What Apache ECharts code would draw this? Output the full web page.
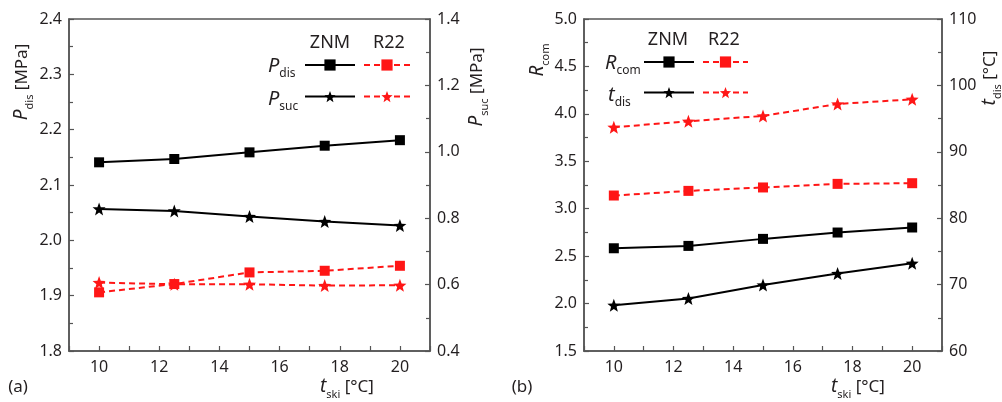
<!DOCTYPE html>
<html>
<head>
<meta charset="utf-8">
<script src="https://cdn.jsdelivr.net/npm/echarts@6/dist/echarts.min.js"></script>
<style>
html,body{margin:0;padding:0;background:#fff;}
#chart{width:1002px;height:402px;}
</style>
</head>
<body>
<div id="chart"></div>
<script>
// ---- data ----
var tski = [10, 12.5, 15, 17.5, 20];
// panel (a)
var pdisZNM = [2.141, 2.147, 2.159, 2.171, 2.181];
var pdisR22 = [1.906, 1.921, 1.942, 1.945, 1.954];
var psucZNM = [0.828, 0.822, 0.805, 0.790, 0.778];
var psucR22 = [0.606, 0.601, 0.601, 0.597, 0.598];
// panel (b)
var rcomZNM = [2.583, 2.608, 2.682, 2.749, 2.802];
var rcomR22 = [3.139, 3.188, 3.224, 3.262, 3.269];
var tdisZNM = [66.9, 67.9, 69.95, 71.66, 73.2];
var tdisR22 = [93.7, 94.6, 95.4, 97.2, 97.9];
var legendCols = ['ZNM', 'R22'];

function pairs(ys){ return tski.map(function(x,i){ return [x, ys[i]]; }); }

// star symbol path
var starPath = (function(){
  var s = 'path://';
  for (var i=0;i<10;i++){
    var r = (i%2===0) ? 50 : 21;
    var a = -Math.PI/2 + i*Math.PI/5;
    var x = (50 + r*Math.cos(a)).toFixed(2), y = (52 + r*Math.sin(a)).toFixed(2);
    s += (i===0?'M':'L') + x + ' ' + y + ' ';
  }
  return s + 'Z';
})();

var FONT = 'Noto Sans';
var TXT = '#231f20';
var AX = '#555';
var RED = '#ff1616';

function xAxisDef(gi){
  return {
    type:'value', gridIndex:gi, min:9, max:21, interval:1,
    axisLine:{show:true, lineStyle:{color:AX, width:1.5}},
    axisTick:{show:true, inside:true, length:5, lineStyle:{color:AX, width:1.2}},
    axisLabel:{color:TXT, fontSize:16, fontFamily:FONT, margin:8,
      formatter:function(v){ return (v%2===0 && v>=10 && v<=20) ? String(v) : ''; }},
    splitLine:{show:false}
  };
}
function yAxisDef(gi, pos, min, max, interval, dec){
  return {
    type:'value', gridIndex:gi, position:pos, min:min, max:max, interval:interval,
    axisLine:{show:true, lineStyle:{color:AX, width:1.5}},
    axisTick:{show:true, inside:true, length:5, lineStyle:{color:AX, width:1.2}},
    minorTick:{show:true, splitNumber:2, length:4, lineStyle:{color:AX, width:1.2}},
    axisLabel:{color:TXT, fontSize:16, fontFamily:FONT, margin:7,
      formatter:function(v){ return v.toFixed(dec); }},
    splitLine:{show:false}, minorSplitLine:{show:false}
  };
}
function ser(name, xi, yi, ys, sym, red){
  return {
    name:name, type:'line', xAxisIndex:xi, yAxisIndex:yi, data:pairs(ys),
    symbol: sym==='star' ? starPath : 'rect',
    symbolSize: sym==='star' ? 13 : 10,
    color: red ? RED : '#000',
    itemStyle:{color: red ? RED : '#000'},
    lineStyle:{color: red ? RED : '#000', width:2, type: red ? [6,4] : 'solid'},
    animation:false, z: red ? 3 : 4
  };
}

var rich = {
  i:{fontStyle:'italic', fontSize:19, fontFamily:FONT, color:TXT, lineHeight:26, verticalAlign:'middle'},
  s:{fontSize:11, fontFamily:FONT, color:TXT, lineHeight:12, verticalAlign:'bottom'},
  n:{fontSize:17, fontFamily:FONT, color:TXT, lineHeight:26, verticalAlign:'middle'},
  li:{fontStyle:'italic', fontSize:20, fontFamily:FONT, color:TXT, lineHeight:28, verticalAlign:'middle'},
  ls:{fontSize:12, fontFamily:FONT, color:TXT, lineHeight:12, verticalAlign:'bottom'}
};
function label(x, y, text, rot, align){
  return {type:'text', x:x, y:y, rotation: rot ? Math.PI/2 : 0, silent:true,
    style:{text:text, rich:rich, align:align||'center', verticalAlign:'middle', fontFamily:FONT, fontSize:17, fill:TXT}};
}
function plain(x, y, text, fs){
  return {type:'text', x:x, y:y, silent:true,
    style:{text:text, align:'center', verticalAlign:'middle', fontFamily:FONT, fontSize:fs||17, fill:TXT}};
}
function legendDef(names, left, top, w, gap){
  return {show:true, orient:'vertical', left:left, top:top, itemWidth:w, itemHeight:14, itemGap:gap,
    selectedMode:false, data:names, formatter:function(){ return ''; }, padding:0,
    textStyle:{fontSize:1}};
}

var option = {
  backgroundColor:'#fff',
  animation:false,
  grid:[
    {left:69, right:572, top:19, bottom:51, show:true, borderColor:AX, borderWidth:1.5, backgroundColor:'transparent'},
    {left:584, right:60, top:19, bottom:51, show:true, borderColor:AX, borderWidth:1.5, backgroundColor:'transparent'}
  ],
  xAxis:[xAxisDef(0), xAxisDef(1)],
  yAxis:[
    yAxisDef(0,'left',1.8,2.4,0.1,1),
    yAxisDef(0,'right',0.4,1.4,0.2,1),
    yAxisDef(1,'left',1.5,5.0,0.5,1),
    yAxisDef(1,'right',60,110,10,0)
  ],
  legend:[
    legendDef(['Pdis ZNM','Psuc ZNM'], 304, 58, 50, 19),
    legendDef(['Pdis R22','Psuc R22'], 363, 58, 46, 19),
    legendDef(['Rcom ZNM','tdis ZNM'], 643, 55, 50, 18),
    legendDef(['Rcom R22','tdis R22'], 702, 55, 45, 18)
  ],
  series:[
    ser('Pdis ZNM',0,0,pdisZNM,'rect',false),
    ser('Pdis R22',0,0,pdisR22,'rect',true),
    ser('Psuc ZNM',0,1,psucZNM,'star',false),
    ser('Psuc R22',0,1,psucR22,'star',true),
    ser('Rcom ZNM',1,2,rcomZNM,'rect',false),
    ser('Rcom R22',1,2,rcomR22,'rect',true),
    ser('tdis ZNM',1,3,tdisZNM,'star',false),
    ser('tdis R22',1,3,tdisR22,'star',true)
  ],
  graphic:[
    label(22, 82, '{i|P}{s|dis} {n|[MPa]}', true),
    label(477, 87, '{i|P}{s|suc} {n|[MPa]}', true),
    label(347, 387, '{i|t}{s|ski} {n|[°C]}', false),
    plain(18, 387, '(a)'),
    label(538, 60, '{i|R}{s|com}', true),
    label(990, 78, '{i|t}{s|dis} {n|[°C]}', true),
    label(858, 387, '{i|t}{s|ski} {n|[°C]}', false),
    plain(522, 387, '(b)'),
    plain(330, 43, legendCols[0], 18),
    plain(389, 43, legendCols[1], 18),
    plain(668, 40, legendCols[0], 18),
    plain(724, 40, legendCols[1], 18),
    label(268, 66, '{li|P}{ls|dis}', false, 'left'),
    label(268, 99, '{li|P}{ls|suc}', false, 'left'),
    label(605, 63, '{li|R}{ls|com}', false, 'left'),
    label(608, 95, '{li|t}{ls|dis}', false, 'left')
  ]
};

var chart = echarts.init(document.getElementById('chart'), null, {renderer:'canvas'});
chart.setOption(option);
</script>
</body>
</html>
